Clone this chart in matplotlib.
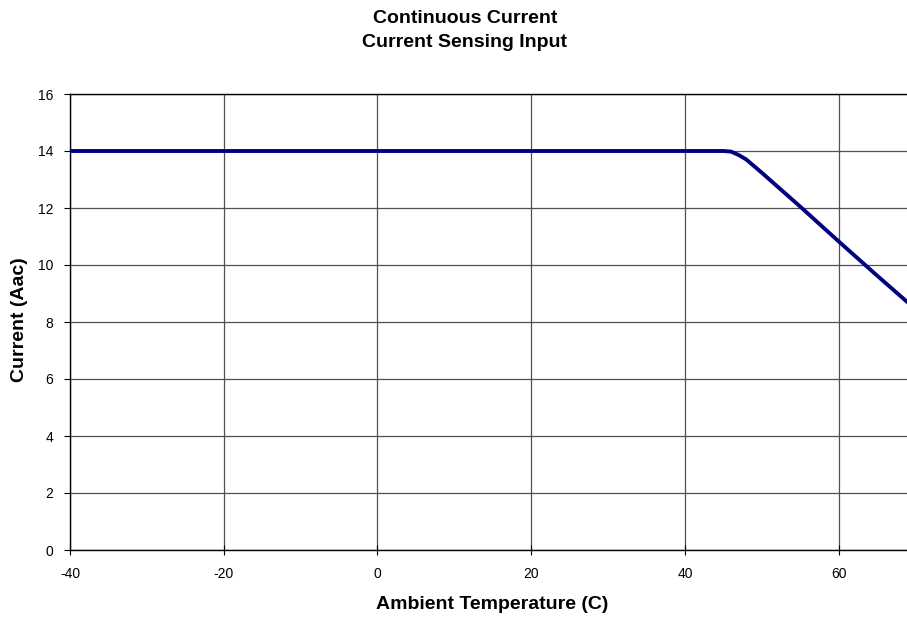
import numpy as np
import matplotlib.pyplot as plt

plt.rcParams['font.family'] = ['Liberation Sans', 'DejaVu Sans']

# Data
temp = [-40, -20, 0, 20, 40, 45, 46, 47, 48, 49, 50, 55, 60, 65, 70]
current = [14.0, 14.0, 14.0, 14.0, 14.0, 14.0, 13.98, 13.86, 13.7, 13.47, 13.24, 12.05, 10.83, 9.63, 8.45]

xticks = [-40, -20, 0, 20, 40, 60]
yticks = [0, 2, 4, 6, 8, 10, 12, 14, 16]

W, H = 907, 618
fig = plt.figure(figsize=(W / 100, H / 100), dpi=100)
ax = fig.add_axes([70 / W, 68 / H, 837 / W, 456 / H])

ax.plot(temp, current, color='#000080', linewidth=2.8, zorder=3)

ax.set_xlim(-40, 68.9)
ax.set_ylim(0, 16)
ax.set_xticks(xticks)
ax.set_yticks(yticks)
ax.set_xticklabels([str(t) for t in xticks], fontsize=10)
ax.set_yticklabels([str(t) for t in yticks], fontsize=10)
ax.tick_params(axis='y', direction='out', length=4, width=0.8, pad=8)
ax.tick_params(axis='x', direction='inout', length=7, width=0.8, pad=9)

ax.grid(True, color='#505050', linewidth=0.9)
ax.set_axisbelow(True)
ax.spines['right'].set_visible(False)
for s in ['left', 'bottom', 'top']:
    ax.spines[s].set_color('black')
    ax.spines[s].set_linewidth(1.0)

# axis labels and two-line title
fig.text(492 / W, 1 - 609 / H, 'Ambient Temperature (C)', ha='center', va='baseline',
         fontsize=14, fontweight='bold')
fig.text(20 / W, 1 - 320 / H, 'Current (Aac)', ha='center', va='center', rotation=90,
         fontsize=14, fontweight='bold')
fig.text(465 / W, 1 - 23 / H, 'Continuous Current', ha='center', va='baseline',
         fontsize=14, fontweight='bold')
fig.text(465 / W, 1 - 47 / H, 'Current Sensing Input', ha='center', va='baseline',
         fontsize=14, fontweight='bold')

fig.savefig('out.png', dpi=100)
